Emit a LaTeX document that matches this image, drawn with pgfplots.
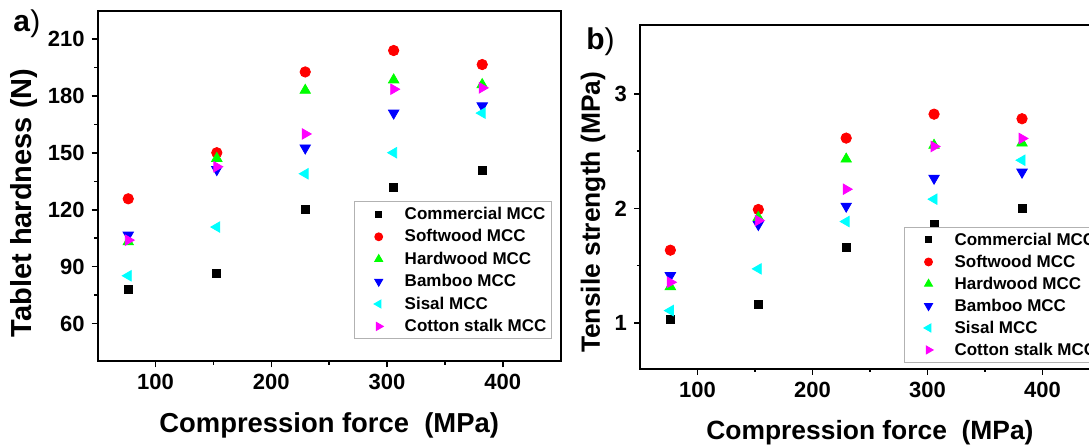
\documentclass[border=0pt]{standalone}
\usepackage{fontspec}
\setmainfont{Liberation Sans}
\usepackage{pgfplots}
\pgfplotsset{compat=1.18}

\definecolor{oblack}{RGB}{0,0,0}
\definecolor{ored}{RGB}{255,0,0}
\definecolor{ogreen}{RGB}{0,255,0}
\definecolor{oblue}{RGB}{0,0,255}
\definecolor{ocyan}{RGB}{0,255,255}
\definecolor{omagenta}{RGB}{255,0,255}

\pgfplotsset{
  panel/.style={
    scale only axis,
    anchor=south west,
    xmin=50, xmax=450,
    xtick={100,200,300,400},
    minor x tick num=1,
    minor y tick num=1,
    tick pos=left,
    tick align=outside,
    major tick length=3pt,
    minor tick length=1.6pt,
    every tick/.style={black, line width=0.8pt},
    axis line style={line width=1pt},
    ticklabel style={font=\fontsize{11}{11}\selectfont\bfseries},
    /pgf/number format/assume math mode=true,
    legend cell align=left,
    legend image code/.code={%
      \path[draw=none,fill=none] (0pt,0pt) -- (20pt,0pt);
      \draw[mark repeat=2,mark phase=2,#1,every mark/.append style={scale=0.75}] plot coordinates {(0pt,0pt) (10pt,0pt) (20pt,0pt)};},
    legend style={draw=gray!60, line width=0.5pt,
      font=\fontsize{8.5}{8.5}\selectfont\bfseries,
      inner xsep=2pt, inner ysep=2pt,
      nodes={inner sep=0.5pt, text height=6.3pt, text depth=1.2pt},
      row sep=2.7pt,
      /tikz/every odd column/.append style={column sep=2.5pt}},
  },
  scom/.style={only marks, oblack, mark=square*, mark size=2pt},
  ssoft/.style={only marks, ored, mark=*, mark size=2.6pt},
  shard/.style={only marks, ogreen, mark=triangle*, mark size=3pt},
  sbam/.style={only marks, oblue, mark=triangle*, mark size=3pt, mark options={rotate=180}},
  ssis/.style={only marks, ocyan, mark=triangle*, mark size=3pt, mark options={rotate=90}},
  scot/.style={only marks, omagenta, mark=triangle*, mark size=3pt, mark options={rotate=-90}},
}

\begin{document}
\begin{tikzpicture}
% panel a
\begin{axis}[panel,
  at={(48.85pt,41.75pt)}, width=231.5pt, height=175.4pt,
  ymin=40, ymax=225,
  ytick={60,90,120,150,180,210},
  xlabel={Compression force\ \ (MPa)},
  ylabel={Tablet hardness (N)},
  xlabel style={font=\fontsize{13.7}{13.7}\selectfont\bfseries, at={(axis description cs:0.5,-0.181)}, anchor=center},
  ylabel style={font=\fontsize{14.5}{14.5}\selectfont\bfseries, at={(axis description cs:-0.159,0.452)}, anchor=center},
  legend style={at={(0.981,0.063)}, anchor=south east},
]
\addplot[scom] coordinates {(76.4,78) (152.9,86.2) (229.3,120) (305.7,131.7) (382.2,141)};
\addlegendentry{Commercial MCC}
\addplot[ssoft] coordinates {(76.4,125.8) (152.9,150.1) (229.3,192.7) (305.7,204) (382.2,196.6)};
\addlegendentry{Softwood MCC}
\addplot[shard] coordinates {(76.4,103.1) (152.9,147.1) (229.3,183) (305.7,188.5) (382.2,186)};
\addlegendentry{Hardwood MCC}
\addplot[sbam] coordinates {(76.4,106.7) (152.9,141.2) (229.3,152.6) (305.7,171) (382.2,174.8)};
\addlegendentry{Bamboo MCC}
\addplot[ssis] coordinates {(76.4,85.2) (152.9,110.9) (229.3,139) (305.7,150.1) (382.2,171)};
\addlegendentry{Sisal MCC}
\addplot[scot] coordinates {(76.4,104) (152.9,142.7) (229.3,160) (305.7,183.6) (382.2,184.3)};
\addlegendentry{Cotton stalk MCC}
\end{axis}

% panel b
\begin{axis}[panel,
  at={(320pt,38.1pt)}, width=230pt, height=171.9pt,
  ymin=0.6, ymax=3.6,
  ytick={1,2,3},
  xlabel={Compression force\ \ (MPa)},
  ylabel={Tensile strength (MPa)},
  xlabel style={font=\fontsize{13.2}{13.2}\selectfont\bfseries, at={(axis description cs:0.5,-0.187)}, anchor=center},
  ylabel style={font=\fontsize{13.2}{13.2}\selectfont\bfseries, at={(axis description cs:-0.102,0.455)}, anchor=center},
  legend style={at={(0.574,0.017)}, anchor=south west, row sep=2.5pt},
]
\addplot[scom] coordinates {(76.4,1.035) (152.9,1.166) (229.3,1.658) (305.7,1.862) (382.2,1.996)};
\addlegendentry{Commercial MCC}
\addplot[ssoft] coordinates {(76.4,1.635) (152.9,1.99) (229.3,2.613) (305.7,2.822) (382.2,2.782)};
\addlegendentry{Softwood MCC}
\addplot[shard] coordinates {(76.4,1.317) (152.9,1.92) (229.3,2.43) (305.7,2.55) (382.2,2.57)};
\addlegendentry{Hardwood MCC}
\addplot[sbam] coordinates {(76.4,1.413) (152.9,1.859) (229.3,2.019) (305.7,2.263) (382.2,2.316)};
\addlegendentry{Bamboo MCC}
\addplot[ssis] coordinates {(76.4,1.108) (152.9,1.472) (229.3,1.885) (305.7,2.08) (382.2,2.42)};
\addlegendentry{Sisal MCC}
\addplot[scot] coordinates {(76.4,1.355) (152.9,1.894) (229.3,2.167) (305.7,2.54) (382.2,2.61)};
\addlegendentry{Cotton stalk MCC}
\end{axis}

\node[anchor=base west, inner sep=0, font=\fontsize{15}{15}\selectfont] at (6.5pt,206.65pt) {\textbf{a})};
\node[anchor=base west, inner sep=0, font=\fontsize{15}{15}\selectfont] at (293pt,197.5pt) {\textbf{b})};

\pgfresetboundingbox
\path[use as bounding box] (0,0) rectangle (544.5pt,222.5pt);
\end{tikzpicture}
\end{document}
